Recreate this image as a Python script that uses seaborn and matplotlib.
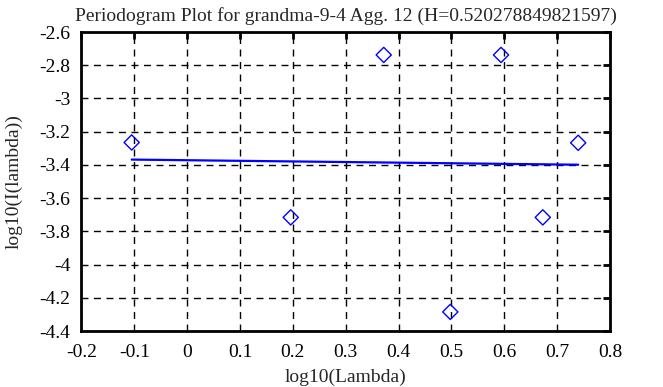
import numpy as np
import pandas as pd
import seaborn as sns
import matplotlib
matplotlib.use('Agg')
import matplotlib.pyplot as plt
from matplotlib.ticker import FormatStrFormatter

# Periodogram points
log_lambda = [-0.105, 0.196, 0.372, 0.498, 0.594, 0.673, 0.740]
log_power = [-3.265, -3.716, -2.738, -4.285, -2.738, -3.716, -3.267]

# Fitted line end points
fit_x = [-0.105, 0.740]
fit_y = [-3.368, -3.399]

title = "Periodogram Plot for grandma-9-4 Agg. 12 (H=0.520278849821597)"

sns.set_style("white")
plt.rcParams['font.family'] = ['Liberation Serif', 'DejaVu Serif']
plt.rcParams['axes.unicode_minus'] = False

fig = plt.figure(figsize=(6.63, 3.87), dpi=100)
ax = fig.add_axes([0.1229, 0.1447, 0.797, 0.7726])

pts = pd.DataFrame({"x": log_lambda, "y": log_power})
fit = pd.DataFrame({"x": fit_x, "y": fit_y})

sns.lineplot(data=fit, x="x", y="y", ax=ax, color="#0000ff", linewidth=1.6)
sns.scatterplot(data=pts, x="x", y="y", ax=ax, marker="D", s=60,
                facecolor="none", edgecolor="#0000ff", linewidth=1.0, zorder=5)

ax.set_xlim(-0.2, 0.8)
ax.set_ylim(-4.4, -2.6)
ax.set_xticks(np.arange(-0.2, 0.81, 0.1))
ax.set_yticks(np.arange(-4.4, -2.59, 0.2))
ax.xaxis.set_major_formatter(FormatStrFormatter('%g'))
ax.yaxis.set_major_formatter(FormatStrFormatter('%g'))

ax.grid(True, color="black", linestyle=(0, (5, 4)), linewidth=1.0)
for s in ax.spines.values():
    s.set_color("black")
    s.set_linewidth(2.0)
ax.tick_params(direction="in", length=5, width=2, labelsize=14,
               top=True, right=True, colors="black")
ax.tick_params(axis="x", pad=9)
ax.tick_params(axis="y", pad=8)

ax.set_title(title, fontsize=14, pad=8)
ax.set_xlabel("log10(Lambda)", fontsize=14, labelpad=6)
ax.set_ylabel("log10(I(lambda))", fontsize=14, labelpad=12)

fig.savefig("out.png", dpi=100)
